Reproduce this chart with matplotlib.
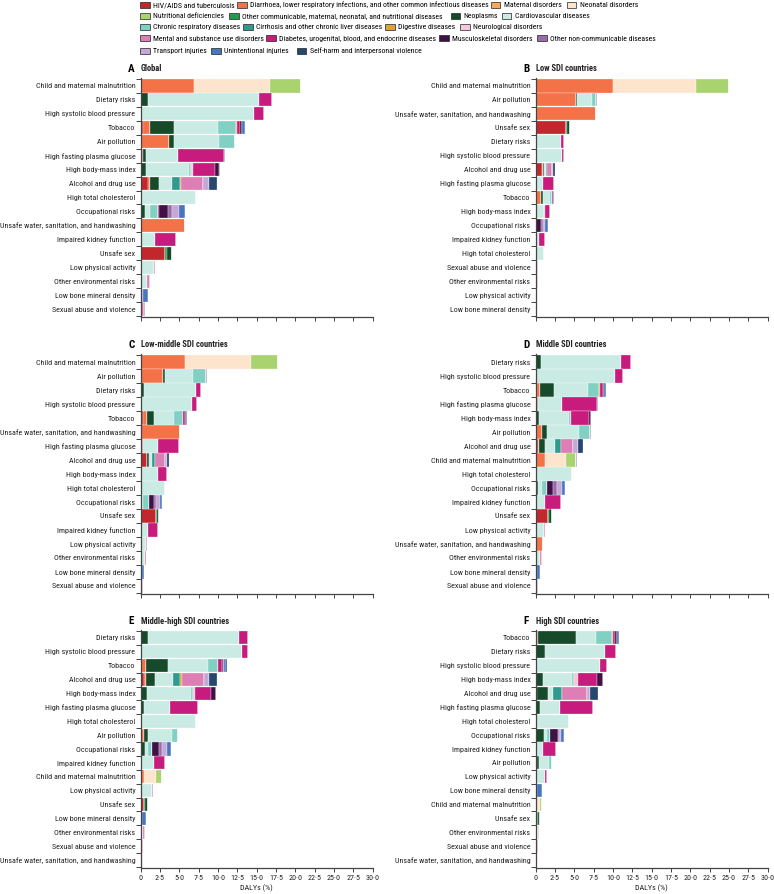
import numpy as np
import matplotlib
matplotlib.use('Agg')
import matplotlib.pyplot as plt
from matplotlib.patches import Patch
from matplotlib import font_manager

# ---- causes (stacking order) ----
cause_codes = ['hiv', 'dia', 'mat', 'neon', 'nut', 'ocd', 'cancer', 'cvd', 'crd', 'cirr',
               'dig', 'neuro', 'mental', 'diab', 'msk', 'oncd', 'trans', 'unint', 'self']
cause_names = ['HIV/AIDS and tuberculosis',
               'Diarrhoea, lower respiratory infections, and other common infectious diseases',
               'Maternal disorders', 'Neonatal disorders', 'Nutritional deficiencies',
               'Other communicable, maternal, neonatal, and nutritional diseases',
               'Neoplasms', 'Cardiovascular diseases', 'Chronic respiratory diseases',
               'Cirrhosis and other chronic liver diseases', 'Digestive diseases',
               'Neurological disorders', 'Mental and substance use disorders',
               'Diabetes, urogenital, blood, and endocrine diseases', 'Musculoskeletal disorders',
               'Other non-communicable diseases', 'Transport injuries', 'Unintentional injuries',
               'Self-harm and interpersonal violence']
cause_colors = ['#C1272D', '#F47248', '#F6A75A', '#FDE4CC', '#A8D36E', '#209A4B', '#164A2A',
                '#C9EBE4', '#82D0C3', '#309A8F', '#DCA528', '#F7C6DA', '#DD7EB4', '#C71C7E',
                '#3F1145', '#9A6BAA', '#C4A9D6', '#4876BE', '#26486F']

# ---- A: Global ----
risks_a = ['Child and maternal malnutrition', 'Dietary risks', 'High systolic blood pressure',
           'Tobacco', 'Air pollution', 'High fasting plasma glucose', 'High body-mass index',
           'Alcohol and drug use', 'High total cholesterol', 'Occupational risks',
           'Unsafe water, sanitation, and handwashing', 'Impaired kidney function', 'Unsafe sex',
           'Low physical activity', 'Other environmental risks', 'Low bone mineral density',
           'Sexual abuse and violence']
vals_a = [
    dict(dia=6.9, neon=9.8, nut=4.0),
    dict(cancer=1.0, cvd=14.3, diab=1.7),
    dict(cvd=14.7, diab=1.3),
    dict(hiv=0.25, dia=0.95, cancer=3.1, cvd=5.7, crd=2.3, dig=0.1, diab=0.5, msk=0.15, oncd=0.1, unint=0.3),
    dict(dia=3.7, cancer=0.6, cvd=5.8, crd=2.1, oncd=0.05),
    dict(hiv=0.25, cancer=0.4, cvd=4.2, diab=5.95, oncd=0.05),
    dict(cancer=0.7, cvd=5.5, crd=0.25, neuro=0.3, diab=2.9, msk=0.5, oncd=0.05),
    dict(hiv=0.95, dia=0.2, cancer=1.25, cvd=1.6, cirr=1.1, dig=0.15, mental=2.85, trans=0.75, self=1.0),
    dict(cvd=7.1),
    dict(cancer=0.55, cvd=0.65, crd=1.05, diab=0.1, msk=1.2, oncd=0.5, trans=0.85, unint=0.8),
    dict(dia=5.7),
    dict(cvd=1.9, diab=2.7),
    dict(hiv=3.2, ocd=0.15, cancer=0.7),
    dict(cancer=0.15, cvd=1.55, diab=0.15),
    dict(cvd=0.85, mental=0.3),
    dict(trans=0.3, unint=0.6),
    dict(hiv=0.05, mental=0.35, oncd=0.15),
]

# ---- B: Low SDI ----
risks_b = ['Child and maternal malnutrition', 'Air pollution',
           'Unsafe water, sanitation, and handwashing', 'Unsafe sex', 'Dietary risks',
           'High systolic blood pressure', 'Alcohol and drug use', 'High fasting plasma glucose',
           'Tobacco', 'High body-mass index', 'Occupational risks', 'Impaired kidney function',
           'High total cholesterol', 'Sexual abuse and violence', 'Other environmental risks',
           'Low physical activity', 'Low bone mineral density']
vals_b = [
    dict(dia=10.0, neon=10.7, nut=4.25, oncd=0.05),
    dict(dia=5.2, cancer=0.1, cvd=2.0, crd=0.55, oncd=0.1),
    dict(dia=7.75),
    dict(hiv=3.9, ocd=0.1, cancer=0.45),
    dict(cancer=0.1, cvd=3.15, diab=0.45),
    dict(cvd=3.35, diab=0.25),
    dict(hiv=0.85, dia=0.15, cancer=0.1, cvd=0.2, cirr=0.2, mental=0.65, trans=0.15, self=0.2),
    dict(hiv=0.15, cvd=0.75, diab=1.5),
    dict(dia=0.65, cancer=0.25, cvd=0.95, crd=0.2, diab=0.1, oncd=0.2),
    dict(cvd=1.05, neuro=0.1, diab=0.7),
    dict(cancer=0.1, msk=0.55, oncd=0.25, trans=0.25, unint=0.4),
    dict(cvd=0.45, diab=0.8),
    dict(cvd=1.1),
    dict(hiv=0.15, mental=0.15),
    dict(cvd=0.15, mental=0.12),
    dict(cvd=0.2, diab=0.03),
    dict(unint=0.12),
]

# ---- C: Low-middle SDI ----
risks_c = ['Child and maternal malnutrition', 'Air pollution', 'Dietary risks',
           'High systolic blood pressure', 'Tobacco', 'Unsafe water, sanitation, and handwashing',
           'High fasting plasma glucose', 'Alcohol and drug use', 'High body-mass index',
           'High total cholesterol', 'Occupational risks', 'Unsafe sex', 'Impaired kidney function',
           'Low physical activity', 'Other environmental risks', 'Low bone mineral density',
           'Sexual abuse and violence']
vals_c = [
    dict(dia=5.75, neon=8.55, nut=3.4, oncd=0.05),
    dict(dia=2.9, cancer=0.25, cvd=3.6, crd=1.7, oncd=0.1),
    dict(cancer=0.4, cvd=6.7, diab=0.75),
    dict(cvd=6.65, diab=0.6),
    dict(hiv=0.25, dia=0.6, cancer=0.85, cvd=2.6, crd=1.15, diab=0.3, msk=0.05, unint=0.15),
    dict(dia=5.05),
    dict(hiv=0.3, cvd=2.0, diab=2.7),
    dict(hiv=0.75, cancer=0.35, cvd=0.35, cirr=0.45, mental=1.25, trans=0.2, self=0.3),
    dict(cancer=0.2, cvd=2.0, neuro=0.05, diab=1.1, msk=0.1),
    dict(cvd=3.2),
    dict(cancer=0.15, cvd=0.2, crd=0.7, msk=0.65, oncd=0.3, trans=0.45, unint=0.35),
    dict(hiv=2.0, ocd=0.1, cancer=0.3),
    dict(cvd=0.9, diab=1.4),
    dict(cvd=0.65, diab=0.1),
    dict(cvd=0.55, mental=0.2),
    dict(trans=0.15, unint=0.3),
    dict(hiv=0.1, mental=0.25),
]

# ---- D: Middle SDI ----
risks_d = ['Dietary risks', 'High systolic blood pressure', 'Tobacco', 'High fasting plasma glucose',
           'High body-mass index', 'Air pollution', 'Alcohol and drug use',
           'Child and maternal malnutrition', 'High total cholesterol', 'Occupational risks',
           'Impaired kidney function', 'Unsafe sex', 'Low physical activity',
           'Unsafe water, sanitation, and handwashing', 'Other environmental risks',
           'Low bone mineral density', 'Sexual abuse and violence']
vals_d = [
    dict(cancer=0.7, cvd=10.35, diab=1.3),
    dict(cvd=10.25, diab=1.05),
    dict(hiv=0.15, dia=0.4, cancer=1.8, cvd=4.4, crd=1.45, dig=0.05, diab=0.5, msk=0.1, unint=0.2, self=0.05),
    dict(hiv=0.25, cvd=3.15, diab=4.55, oncd=0.05),
    dict(cancer=0.45, cvd=3.8, crd=0.25, diab=2.35, msk=0.35),
    dict(dia=0.8, cancer=0.65, cvd=4.2, crd=1.35, oncd=0.1),
    dict(hiv=0.35, dia=0.1, cancer=0.8, cvd=1.3, cirr=0.75, mental=1.55, trans=0.6, self=0.65),
    dict(dia=1.2, neon=2.7, nut=1.3, oncd=0.1),
    dict(cvd=4.75),
    dict(cancer=0.25, cvd=0.5, crd=0.75, msk=0.8, oncd=0.4, trans=0.7, unint=0.45),
    dict(cvd=1.2, diab=2.05),
    dict(hiv=1.65, ocd=0.1, cancer=0.4),
    dict(cvd=1.1, diab=0.12),
    dict(dia=1.0),
    dict(cvd=0.55, mental=0.25),
    dict(trans=0.2, unint=0.35),
    dict(hiv=0.1, mental=0.2),
]

# ---- E: Middle-high SDI ----
risks_e = ['Dietary risks', 'High systolic blood pressure', 'Tobacco', 'Alcohol and drug use',
           'High body-mass index', 'High fasting plasma glucose', 'High total cholesterol',
           'Air pollution', 'Occupational risks', 'Impaired kidney function',
           'Child and maternal malnutrition', 'Low physical activity', 'Unsafe sex',
           'Low bone mineral density', 'Other environmental risks', 'Sexual abuse and violence',
           'Unsafe water, sanitation, and handwashing']
vals_e = [
    dict(cancer=0.9, cvd=11.8, diab=1.15),
    dict(cvd=13.05, diab=0.8),
    dict(dia=0.65, cancer=2.9, cvd=5.15, crd=1.3, dig=0.05, diab=0.45, msk=0.15, oncd=0.1, unint=0.25, self=0.1),
    dict(hiv=0.4, dia=0.25, cancer=1.25, cvd=2.3, cirr=0.9, dig=0.2, mental=2.85, trans=0.65, self=1.05),
    dict(cancer=0.75, cvd=5.8, crd=0.15, neuro=0.3, diab=2.1, msk=0.65),
    dict(hiv=0.05, cancer=0.35, cvd=3.45, diab=3.6),
    dict(cvd=7.1),
    dict(dia=0.4, cancer=0.5, cvd=3.2, crd=0.75),
    dict(cancer=0.5, cvd=0.45, crd=0.45, diab=0.1, msk=0.85, oncd=0.4, trans=0.6, unint=0.6),
    dict(cvd=1.7, diab=1.4),
    dict(dia=0.4, neon=1.6, nut=0.75),
    dict(cancer=0.1, cvd=1.35, diab=0.2),
    dict(hiv=0.45, ocd=0.15, cancer=0.3),
    dict(trans=0.2, unint=0.5),
    dict(cvd=0.35, mental=0.2),
    dict(hiv=0.05, mental=0.2, oncd=0.1),
    dict(dia=0.3),
]

# ---- F: High SDI ----
risks_f = ['Tobacco', 'Dietary risks', 'High systolic blood pressure', 'High body-mass index',
           'Alcohol and drug use', 'High fasting plasma glucose', 'High total cholesterol',
           'Occupational risks', 'Impaired kidney function', 'Air pollution',
           'Low physical activity', 'Low bone mineral density', 'Child and maternal malnutrition',
           'Unsafe sex', 'Other environmental risks', 'Sexual abuse and violence',
           'Unsafe water, sanitation, and handwashing']
vals_f = [
    dict(dia=0.3, cancer=4.85, cvd=2.65, crd=2.1, dig=0.1, diab=0.25, msk=0.2, oncd=0.05, unint=0.3),
    dict(cancer=1.2, cvd=7.7, diab=1.45),
    dict(cvd=8.3, diab=0.9),
    dict(cancer=0.95, cvd=3.8, crd=0.15, neuro=0.6, diab=2.4, msk=0.75),
    dict(dia=0.15, cancer=1.5, cvd=0.6, cirr=1.1, dig=0.05, mental=3.2, trans=0.4, self=1.0),
    dict(cancer=0.55, cvd=2.55, diab=4.35),
    dict(cvd=4.3),
    dict(cancer=1.1, cvd=0.3, crd=0.45, diab=0.05, msk=0.95, oncd=0.2, trans=0.25, unint=0.4),
    dict(cvd=0.95, diab=1.7),
    dict(dia=0.15, cancer=0.25, cvd=1.3, crd=0.45),
    dict(cancer=0.1, cvd=1.1, diab=0.2),
    dict(trans=0.15, unint=0.7),
    dict(neon=0.5, nut=0.3),
    dict(hiv=0.15, ocd=0.1, cancer=0.25),
    dict(cvd=0.25, mental=0.15),
    dict(mental=0.25, oncd=0.05),
    dict(dia=0.1),
]

x_ticks = np.arange(0, 30.1, 2.5)
tick_labels = ['0'] + [f'{t:.1f}'.replace('.', '\u00b7') for t in x_ticks[1:]]

# ---- figure ----
W, H = 774, 894
fig = plt.figure(figsize=(W / 100, H / 100), dpi=100)
renderer = fig.canvas.get_renderer()
LONGEST = 'Unsafe water, sanitation, and handwashing'


def text_width(text, family, size=10):
    t = fig.text(0, 0, text, fontsize=size, family=family)
    w = t.get_window_extent(renderer).width
    t.remove()
    return w


# the original uses a condensed face; take the narrowest installed family
installed = {f.name for f in font_manager.fontManager.ttflist}
families = [f for f in ['Liberation Sans Narrow', 'Roboto Condensed', 'Lato', 'Roboto',
                        'Liberation Sans', 'Noto Sans', 'Open Sans', 'DejaVu Sans'] if f in installed]
FONT = min(families, key=lambda f: text_width(LONGEST, f))
plt.rcParams['font.family'] = [FONT, 'DejaVu Sans']

# label size so the longest risk name spans what it does in the original
LBL = min(5.8, 10 * 134 / text_width(LONGEST, FONT))

panels = [
    ('A', 'Global', risks_a, vals_a, 140.7, 78.3, 317.4, False),
    ('B', 'Low SDI countries', risks_b, vals_b, 535.7, 78.3, 317.4, False),
    ('C', 'Low-middle SDI countries', risks_c, vals_c, 140.7, 354.3, 594.4, False),
    ('D', 'Middle SDI countries', risks_d, vals_d, 535.7, 354.3, 594.4, False),
    ('E', 'Middle-high SDI countries', risks_e, vals_e, 140.7, 630.3, 868.4, True),
    ('F', 'High SDI countries', risks_f, vals_f, 535.7, 630.3, 868.4, True),
]

for letter, title, risks, vals, lpx, tpx, bpx, show_x in panels:
    ax = fig.add_axes([lpx / W, 1 - bpx / H, 232 / W, (bpx - tpx) / H])
    y = np.arange(len(risks))
    left = np.zeros(len(risks))
    for code, color in zip(cause_codes, cause_colors):
        w = np.array([v.get(code, 0.0) for v in vals])
        if w.sum() == 0:
            continue
        ax.barh(y, w, left=left, height=0.94, color=color, edgecolor='white', linewidth=0.2)
        left += w

    ax.set_xlim(0, 30)
    ax.set_ylim(len(risks) - 0.4, -0.55)
    ax.set_yticks(y)
    ax.set_yticklabels(risks, fontsize=LBL, color='#222222')
    ax.set_yticks(np.arange(-0.5, len(risks), 1), minor=True)
    ax.tick_params(axis='y', which='major', length=0, pad=3.8)
    ax.tick_params(axis='y', which='minor', length=3.5, width=0.7, color='#444444')
    ax.set_xticks(x_ticks)
    ax.tick_params(axis='x', length=3, width=0.7, color='#444444', pad=1.5)
    if show_x:
        ax.set_xticklabels(tick_labels, fontsize=LBL, color='#222222')
        ax.set_xlabel('DALYs (%)', fontsize=LBL, color='#222222', labelpad=3)
    else:
        ax.set_xticklabels([])
    for s in ['top', 'right']:
        ax.spines[s].set_visible(False)
    for s in ['left', 'bottom']:
        ax.spines[s].set_linewidth(0.9)
        ax.spines[s].set_color('#444444')

    ax.text(-0.04, 1.039, letter, transform=ax.transAxes, fontsize=8, fontweight='bold',
            ha='center', va='center')
    ax.text(0.0, 1.039, title, transform=ax.transAxes, fontsize=LBL + 0.4, fontweight='bold',
            ha='left', va='center', color='#222222')

# ---- legend: each key sits where it sits in the original ----
legend_rows = [[0, 1, 2, 3], [4, 5, 6, 7], [8, 9, 10, 11], [12, 13, 14, 15], [16, 17, 18]]
row_x = [[140, 237, 490.7, 566.7], [140, 229, 450.7, 501.7], [140, 243, 385, 460],
         [140, 266, 439, 537], [140, 211, 296.7]]
row_y = [5, 16, 27, 38.5, 51]

# largest size at which every key text fits before the next key
LEG = 6.4
for row, xs in zip(legend_rows, row_x):
    for k, i in enumerate(row):
        stop = xs[k + 1] - 5 if k + 1 < len(row) else W - 2
        avail = stop - xs[k] - 11
        LEG = min(LEG, 10 * avail / text_width(cause_names[i], FONT))

for row, xs, yc in zip(legend_rows, row_x, row_y):
    for i, xp in zip(row, xs):
        h = Patch(facecolor=cause_colors[i], edgecolor='#222222', linewidth=0.5)
        fig.legend([h], [cause_names[i]], loc='center left',
                   bbox_to_anchor=(xp / W, 1 - yc / H), frameon=False,
                   fontsize=LEG, borderpad=0, borderaxespad=0, handlelength=1.25,
                   handleheight=0.85, handletextpad=0.45)

fig.savefig('out.png', dpi=100)
